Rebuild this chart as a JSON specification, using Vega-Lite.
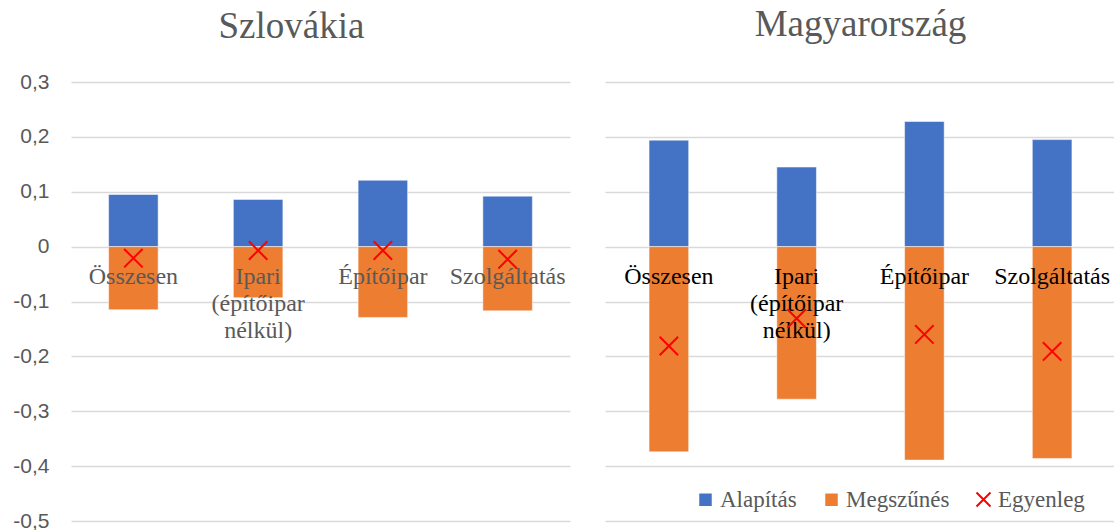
{
  "$schema": "https://vega.github.io/schema/vega-lite/v6.json",
  "padding": {"left": 12, "top": 6, "right": 0, "bottom": 0},
  "background": "white",
  "data": {"name": "d"},
  "datasets": {
    "d": [
      {"country": "Szlovákia", "category": "Összesen", "series": "Alapítás", "value": 0.095},
      {"country": "Szlovákia", "category": "Összesen", "series": "Megszűnés", "value": -0.115},
      {"country": "Szlovákia", "category": "Összesen", "series": "Egyenleg", "value": -0.021},
      {"country": "Szlovákia", "category": "Ipari (építőipar nélkül)", "series": "Alapítás", "value": 0.086},
      {"country": "Szlovákia", "category": "Ipari (építőipar nélkül)", "series": "Megszűnés", "value": -0.093},
      {"country": "Szlovákia", "category": "Ipari (építőipar nélkül)", "series": "Egyenleg", "value": -0.007},
      {"country": "Szlovákia", "category": "Építőipar", "series": "Alapítás", "value": 0.121},
      {"country": "Szlovákia", "category": "Építőipar", "series": "Megszűnés", "value": -0.129},
      {"country": "Szlovákia", "category": "Építőipar", "series": "Egyenleg", "value": -0.007},
      {"country": "Szlovákia", "category": "Szolgáltatás", "series": "Alapítás", "value": 0.092},
      {"country": "Szlovákia", "category": "Szolgáltatás", "series": "Megszűnés", "value": -0.117},
      {"country": "Szlovákia", "category": "Szolgáltatás", "series": "Egyenleg", "value": -0.023},
      {"country": "Magyarország", "category": "Összesen", "series": "Alapítás", "value": 0.194},
      {"country": "Magyarország", "category": "Összesen", "series": "Megszűnés", "value": -0.374},
      {"country": "Magyarország", "category": "Összesen", "series": "Egyenleg", "value": -0.181},
      {"country": "Magyarország", "category": "Ipari (építőipar nélkül)", "series": "Alapítás", "value": 0.145},
      {"country": "Magyarország", "category": "Ipari (építőipar nélkül)", "series": "Megszűnés", "value": -0.278},
      {"country": "Magyarország", "category": "Ipari (építőipar nélkül)", "series": "Egyenleg", "value": -0.131},
      {"country": "Magyarország", "category": "Építőipar", "series": "Alapítás", "value": 0.228},
      {"country": "Magyarország", "category": "Építőipar", "series": "Megszűnés", "value": -0.389},
      {"country": "Magyarország", "category": "Építőipar", "series": "Egyenleg", "value": -0.160},
      {"country": "Magyarország", "category": "Szolgáltatás", "series": "Alapítás", "value": 0.195},
      {"country": "Magyarország", "category": "Szolgáltatás", "series": "Megszűnés", "value": -0.386},
      {"country": "Magyarország", "category": "Szolgáltatás", "series": "Egyenleg", "value": -0.191}
    ]
  },
  "config": {
    "view": {"stroke": null},
    "concat": {"spacing": 35},
    "title": {"font": "Liberation Serif", "fontSize": 37, "fontWeight": "normal", "color": "#595959", "frame": "group", "anchor": "middle"},
    "axisY": {"gridColor": "#D9D9D9", "gridWidth": 1.5, "domain": false, "ticks": false},
    "axisX": {"disable": true}
  },
  "resolve": {"legend": {"color": "independent", "shape": "independent"}},
  "hconcat": [
    {
      "title": {"text": "Szlovákia", "dx": -29, "offset": 25},
      "width": 499,
      "height": 439,
      "transform": [{"filter": "datum.country === 'Szlovákia'"}],
      "layer": [
        {
          "transform": [{"filter": "datum.series !== 'Egyenleg'"}],
          "mark": {"type": "bar", "stroke": "white", "strokeWidth": 0.5},
          "encoding": {
            "x": {"field": "category", "type": "nominal", "sort": null, "scale": {"paddingInner": 0.603, "paddingOuter": 0.3015}},
            "y": {"field": "value", "type": "quantitative", "stack": null, "scale": {"domain": [-0.5, 0.3], "nice": false},
              "axis": {"values": [-0.5, -0.4, -0.3, -0.2, -0.1, 0, 0.1, 0.2, 0.3], "title": null, "labelFont": "Liberation Sans", "labelFontSize": 21, "labelColor": "#595959", "labelPadding": 22,
                "labelExpr": "abs(datum.value) < 1e-9 ? '0' : replace(replace(format(datum.value, '.1f'), '.', ','), '\u2212', '-')"}},
            "color": {"field": "series", "type": "nominal", "scale": {"domain": ["Alapítás", "Megszűnés"], "range": ["#4472C4", "#ED7D31"]}, "legend": null}
          }
        },
        {
          "transform": [{"filter": "datum.series === 'Egyenleg'"}],
          "mark": {"type": "text", "font": "Liberation Serif", "fontSize": 24, "color": "#595959", "baseline": "alphabetic", "dy": 37, "lineBreak": " ", "lineHeight": 27},
          "encoding": {
            "x": {"field": "category", "type": "nominal", "sort": null},
            "y": {"datum": 0},
            "text": {"field": "category"}
          }
        },
        {
          "transform": [{"filter": "datum.series === 'Egyenleg'"}],
          "mark": {"type": "point", "filled": false, "stroke": "#FF0000", "strokeWidth": 2, "size": 340, "opacity": 1},
          "encoding": {
            "x": {"field": "category", "type": "nominal", "sort": null},
            "y": {"field": "value", "type": "quantitative"},
            "shape": {"field": "series", "type": "nominal", "scale": {"domain": ["Egyenleg"], "range": ["M-1,-1L1,1M1,-1L-1,1"]}, "legend": null}
          }
        }
      ]
    },
    {
      "title": {"text": "Magyarország", "offset": 38},
      "width": 511,
      "height": 439,
      "transform": [{"filter": "datum.country === 'Magyarország'"}],
      "layer": [
        {
          "transform": [{"filter": "datum.series !== 'Egyenleg'"}],
          "mark": {"type": "bar", "stroke": "white", "strokeWidth": 0.5},
          "encoding": {
            "x": {"field": "category", "type": "nominal", "sort": null, "scale": {"paddingInner": 0.69, "paddingOuter": 0.345}},
            "y": {"field": "value", "type": "quantitative", "stack": null, "scale": {"domain": [-0.5, 0.3], "nice": false},
              "axis": {"values": [-0.5, -0.4, -0.3, -0.2, -0.1, 0, 0.1, 0.2, 0.3], "title": null, "labels": false}},
            "color": {"field": "series", "type": "nominal", "scale": {"domain": ["Alapítás", "Megszűnés"], "range": ["#4472C4", "#ED7D31"]},
              "legend": {"title": null, "orient": "none", "direction": "horizontal", "legendX": 89, "legendY": 406, "labelFont": "Liberation Serif", "labelFontSize": 23, "labelColor": "#595959", "symbolType": "square", "symbolSize": 156, "symbolStrokeWidth": 0, "labelOffset": 3, "columnPadding": 23}}
          }
        },
        {
          "transform": [{"filter": "datum.series === 'Egyenleg'"}],
          "mark": {"type": "text", "font": "Liberation Serif", "fontSize": 24, "color": "#000000", "baseline": "alphabetic", "dy": 37, "lineBreak": " ", "lineHeight": 27},
          "encoding": {
            "x": {"field": "category", "type": "nominal", "sort": null},
            "y": {"datum": 0},
            "text": {"field": "category"}
          }
        },
        {
          "transform": [{"filter": "datum.series === 'Egyenleg'"}],
          "mark": {"type": "point", "filled": false, "stroke": "#FF0000", "strokeWidth": 2, "size": 340, "opacity": 1},
          "encoding": {
            "x": {"field": "category", "type": "nominal", "sort": null},
            "y": {"field": "value", "type": "quantitative"},
            "shape": {"field": "series", "type": "nominal", "scale": {"domain": ["Egyenleg"], "range": ["M-1,-1L1,1M1,-1L-1,1"]},
              "legend": {"title": null, "orient": "none", "direction": "horizontal", "legendX": 367, "legendY": 406, "labelFont": "Liberation Serif", "labelFontSize": 23, "labelColor": "#595959", "symbolSize": 196, "symbolStrokeColor": "#FF0000", "symbolFillColor": "transparent", "symbolStrokeWidth": 2, "labelOffset": 3}}
          }
        }
      ]
    }
  ]
}
